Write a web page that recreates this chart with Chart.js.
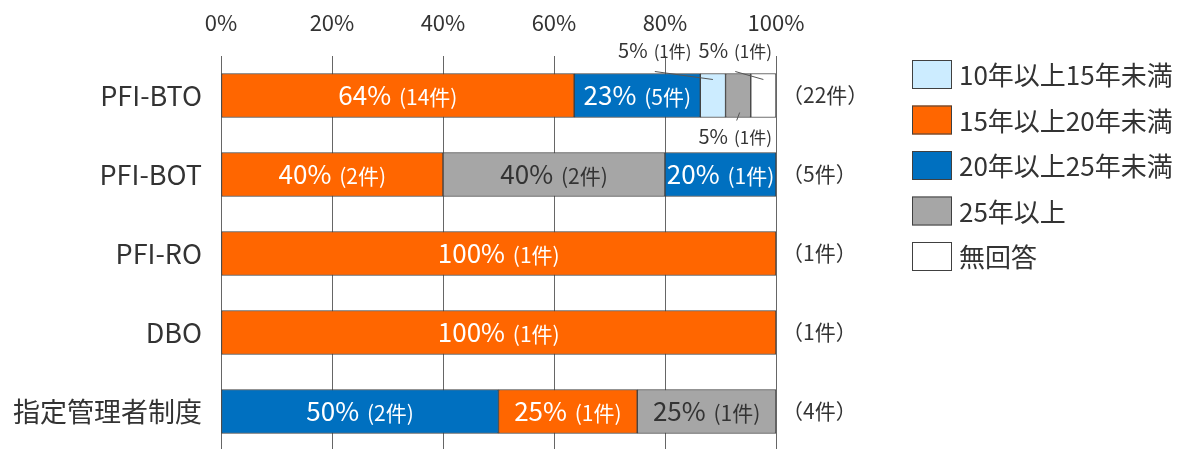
<!DOCTYPE html>
<html>
<head>
<meta charset="utf-8">
<style>
  html, body { margin: 0; padding: 0; background: #fff; overflow: hidden; }
  #wrap { position: relative; width: 1193px; height: 452px; }
</style>
<script src="https://cdn.jsdelivr.net/npm/chart.js@4.4.1/dist/chart.umd.min.js"></script>
</head>
<body>
<div id="wrap"><canvas id="chart"></canvas></div>
<script>
// Contract types (rows)
const categories = ['PFI-BTO', 'PFI-BOT', 'PFI-RO', 'DBO', '指定管理者制度'];
// Number of responses per contract type
const totals = [22, 5, 1, 1, 4];
const totalLabels = ['（22件）', '（5件）', '（1件）', '（1件）', '（4件）'];

// Series: contract period
const seriesNames = ['10年以上15年未満', '15年以上20年未満', '20年以上25年未満', '25年以上', '無回答'];
const count10to15 = [1, 0, 0, 0, 0];
const count15to20 = [14, 2, 1, 1, 1];
const count20to25 = [5, 1, 0, 0, 2];
const count25plus = [1, 2, 0, 0, 1];
const countNoAnswer = [1, 0, 0, 0, 0];

// Order in which series are stacked along each row (series index)
const rowOrder = [
  [1, 2, 0, 3, 4],
  [1, 3, 2],
  [1],
  [1],
  [2, 1, 3]
];

// Axis ticks (percent)
const tickValues = [0, 20, 40, 60, 80, 100];

const seriesCounts = [count10to15, count15to20, count20to25, count25plus, countNoAnswer];
const fillColors = ['#CCECFF', '#FF6600', '#0070C0', '#A6A6A6', '#FFFFFF'];
const labelColors = ['#333333', '#FFFFFF', '#FFFFFF', '#333333', '#333333'];
const EDGE = '#404040';
const TEXT = '#333333';
const FONT = "'Noto Sans CJK JP', 'Noto Sans', sans-serif";

// Floating [start, end] ranges per series, following each row's order
const ranges = seriesCounts.map(() => categories.map(() => null));
rowOrder.forEach((order, i) => {
  let start = 0;
  order.forEach(s => {
    const share = seriesCounts[s][i] / totals[i] * 100;
    ranges[s][i] = [start, start + share];
    start += share;
  });
});

const datasets = seriesNames.map((name, s) => ({
  label: name,
  data: ranges[s],
  backgroundColor: fillColors[s],
  borderColor: EDGE,
  borderWidth: 1,
  borderSkipped: false,
  grouped: false,
  barThickness: 44
}));

const BIG = 26, SMALL = 21, NBIG = 20, NSMALL = 17;

function pairWidth(ctx, big, small, bigSize, smallSize) {
  ctx.font = bigSize + 'px ' + FONT;
  const w1 = ctx.measureText(big).width;
  ctx.font = smallSize + 'px ' + FONT;
  const w2 = ctx.measureText(small).width;
  return { w1, w2, gap: bigSize * 0.3, total: w1 + bigSize * 0.3 + w2 };
}

function drawPair(ctx, cx, cy, big, small, bigSize, smallSize, color) {
  const m = pairWidth(ctx, big, small, bigSize, smallSize);
  const x0 = cx - m.total / 2;
  const baseline = cy + bigSize * 0.38;
  ctx.fillStyle = color;
  ctx.textAlign = 'left';
  ctx.textBaseline = 'alphabetic';
  ctx.font = bigSize + 'px ' + FONT;
  ctx.fillText(big, x0, baseline);
  ctx.font = smallSize + 'px ' + FONT;
  ctx.fillText(small, x0 + m.w1 + m.gap, baseline);
}

// Segment labels: inside for wide segments, with leader lines for narrow ones
const segmentLabels = {
  id: 'segmentLabels',
  afterDatasetsDraw(chart) {
    const ctx = chart.ctx;
    const area = chart.chartArea;
    const narrow = categories.map(() => []);
    ctx.save();
    chart.data.datasets.forEach((ds, s) => {
      const meta = chart.getDatasetMeta(s);
      meta.data.forEach((bar, i) => {
        const c = seriesCounts[s][i];
        if (!c) return;
        const pct = Math.round(c / totals[i] * 100) + '%';
        const cnt = '(' + c + '件)';
        const p = bar.getProps(['x', 'y', 'base', 'height'], true);
        const left = Math.min(p.x, p.base), right = Math.max(p.x, p.base);
        const cx = (left + right) / 2;
        if (right - left > 60) {
          drawPair(ctx, cx, p.y, pct, cnt, BIG, SMALL, labelColors[s]);
        } else {
          narrow[i].push({ cx, top: p.y - p.height / 2, bottom: p.y + p.height / 2, pct, cnt });
        }
      });
    });

    ctx.strokeStyle = '#555555';
    ctx.lineWidth = 1;
    narrow.forEach(list => {
      if (!list.length) return;
      list.sort((a, b) => a.cx - b.cx);
      const above = list.filter((_, k) => k % 2 === 0);
      const below = list.filter((_, k) => k % 2 === 1);
      // labels above the bar are packed leftwards from the plot's right edge
      let edge = area.right - 4;
      for (let k = above.length - 1; k >= 0; k--) {
        const it = above[k];
        const w = pairWidth(ctx, it.pct, it.cnt, NBIG, NSMALL).total;
        const lx = edge - w / 2;
        edge = edge - w - 7;
        ctx.beginPath();
        ctx.moveTo(lx, it.top - 2);
        ctx.lineTo(it.cx, it.top + 6);
        ctx.stroke();
        drawPair(ctx, lx, it.top - 23, it.pct, it.cnt, NBIG, NSMALL, TEXT);
      }
      below.forEach(it => {
        ctx.beginPath();
        ctx.moveTo(it.cx + 1.5, it.bottom - 5);
        ctx.lineTo(it.cx - 1.5, it.bottom + 3);
        ctx.stroke();
        drawPair(ctx, it.cx - 3, it.bottom + 19, it.pct, it.cnt, NBIG, NSMALL, TEXT);
      });
    });
    ctx.restore();
  }
};

// Legend column to the right of the totals
const sideLegend = {
  id: 'sideLegend',
  afterDraw(chart) {
    const ctx = chart.ctx;
    const area = chart.chartArea;
    const x = area.right + 136;
    ctx.save();
    ctx.font = '26px ' + FONT;
    ctx.textAlign = 'left';
    ctx.textBaseline = 'middle';
    chart.data.datasets.forEach((ds, s) => {
      const y = area.top + 4 + s * 45.5;
      ctx.fillStyle = ds.backgroundColor;
      ctx.fillRect(x, y, 40, 29);
      ctx.strokeStyle = EDGE;
      ctx.lineWidth = 1;
      ctx.strokeRect(x + 0.5, y + 0.5, 39, 28);
      ctx.fillStyle = TEXT;
      ctx.fillText(ds.label, x + 47, y + 15.5);
    });
    ctx.restore();
  }
};

function noVerticalPadding(scale) {
  scale.paddingTop = 0;
  scale.paddingBottom = 0;
}

new Chart(document.getElementById('chart'), {
  type: 'bar',
  data: { labels: categories, datasets },
  options: {
    indexAxis: 'y',
    responsive: true,
    maintainAspectRatio: false,
    animation: false,
    layout: { padding: { top: 9.6, right: 297, bottom: 1, left: 0 } },
    scales: {
      x: {
        position: 'top',
        min: 0,
        max: 100,
        afterBuildTicks(scale) { scale.ticks = tickValues.map(v => ({ value: v })); },
        ticks: {
          callback: v => v + '%',
          font: { family: FONT, size: 22 },
          color: TEXT,
          padding: 20,
          maxRotation: 0
        },
        grid: { color: '#666666', drawTicks: false, lineWidth: 1 },
        border: { display: false },
        afterFit(scale) { scale.height = 46.4; }
      },
      y: {
        position: 'left',
        ticks: {
          font: { family: FONT, size: 27 },
          color: TEXT,
          padding: 19
        },
        grid: { display: false, drawTicks: false },
        border: { display: false },
        afterFit(scale) { scale.width = 221; noVerticalPadding(scale); }
      },
      yTotal: {
        type: 'category',
        position: 'right',
        labels: totalLabels,
        offset: true,
        ticks: {
          font: { family: FONT, size: 21 },
          color: TEXT,
          padding: 6
        },
        grid: { display: false, drawTicks: false },
        border: { display: false },
        afterFit(scale) { scale.width = 120; noVerticalPadding(scale); }
      }
    },
    plugins: {
      legend: { display: false },
      tooltip: { enabled: false }
    }
  },
  plugins: [segmentLabels, sideLegend]
});
</script>
</body>
</html>
